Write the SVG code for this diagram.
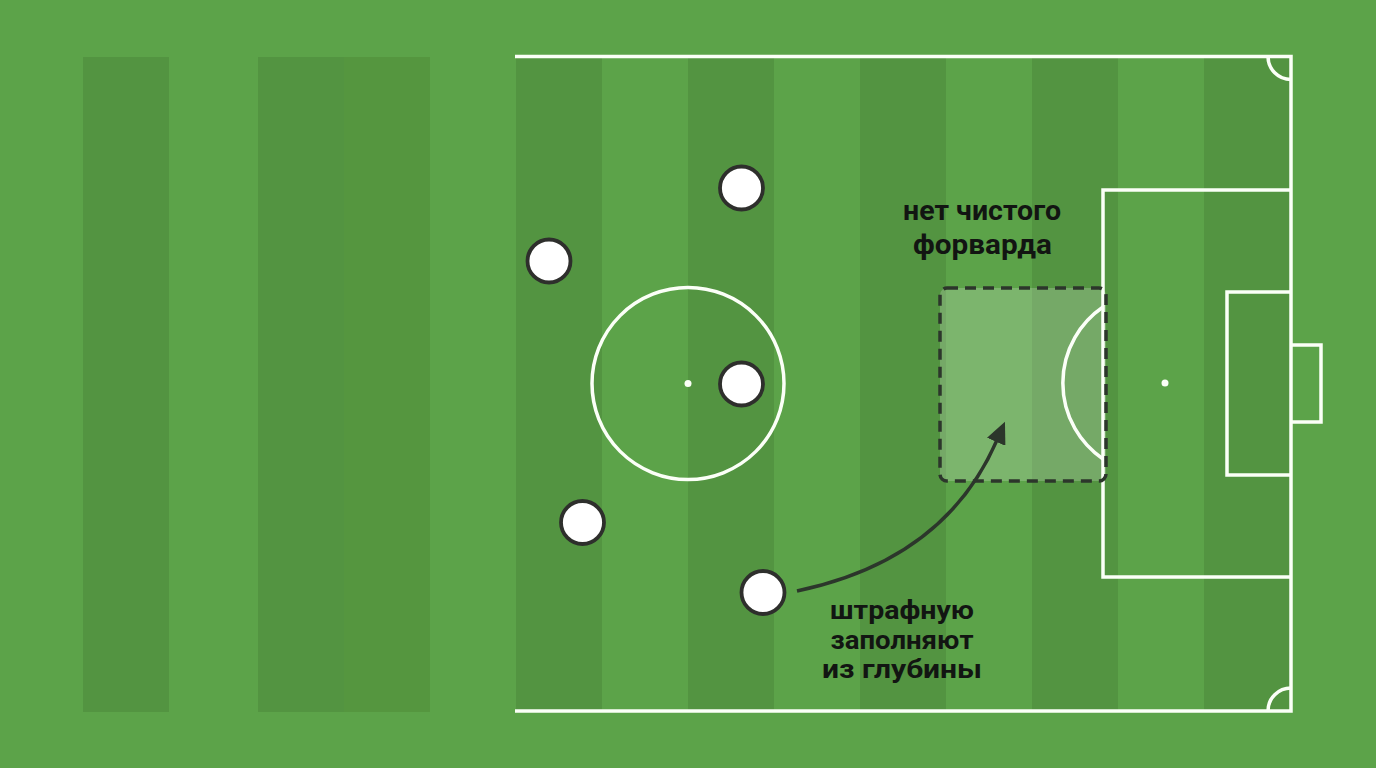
<svg xmlns="http://www.w3.org/2000/svg" width="1376" height="768" viewBox="0 0 1376 768">
<defs>
<style>
.dark{fill:#539441}
.dark2{fill:#55963f}
.line{fill:none;stroke:#fbfff7;stroke-width:3.5}
.player{fill:#ffffff;stroke:#2e2f2c;stroke-width:3.8}
.lbl{font-family:Roboto,"Open Sans","DejaVu Sans",sans-serif;font-weight:700;font-size:27px;fill:#121512;text-anchor:middle}
.lbl2{font-size:25px}
</style>
<marker id="ah" markerUnits="userSpaceOnUse" markerWidth="22" markerHeight="20" viewBox="0 0 22 20" refX="2" refY="10" orient="auto">
<path d="M0,0 L22,10 L0,20 z" fill="#2c362b"/>
</marker>
</defs>
<rect x="0" y="0" width="1376" height="768" fill="#5ca349"/>
<g id="stripes">
<rect class="dark" x="83" y="57" width="86" height="655"/>
<rect class="dark" x="258" y="57" width="86" height="655"/>
<rect class="dark2" x="344" y="57" width="86" height="655"/>
<rect class="dark" x="516" y="57" width="86" height="654"/>
<rect class="dark" x="688" y="57" width="86" height="654"/>
<rect class="dark" x="860" y="57" width="86" height="654"/>
<rect class="dark" x="1032" y="57" width="86" height="654"/>
<rect class="dark" x="1204" y="57" width="87" height="654"/>
</g>
<g id="markings">
<path class="line" d="M515,56.5 H1291 V711 H515"/>
<path class="line" d="M1268,56.5 A23,23 0 0 0 1291,79.5"/>
<path class="line" d="M1291,688 A23,23 0 0 0 1268,711"/>
<circle class="line" cx="688" cy="383.5" r="96"/>
<circle cx="688" cy="383.5" r="3.5" fill="#fbfff7"/>
<path class="line" d="M1291,190 H1103 V577 H1291"/>
<path class="line" d="M1291,292 H1227 V475 H1291"/>
<path class="line" d="M1291,345 H1321 V422 H1291"/>
<circle cx="1165" cy="383" r="3.5" fill="#fbfff7"/>
<path class="line" d="M1103,307 A92,92 0 0 0 1103,459"/>
</g>
<g id="zone">
<rect x="940" y="288" width="166" height="193" rx="7" fill="#ffffff" fill-opacity="0.2" stroke="#2c362b" stroke-width="3.5" stroke-dasharray="11,7"/>
</g>
<g id="connectors">
<path d="M797,591 Q945,560 997,440" fill="none" stroke="#2c362b" stroke-width="3.5" marker-end="url(#ah)"/>
</g>
<g id="players">
<circle id="p1" class="player" cx="741.5" cy="188" r="21.5"/>
<circle id="p2" class="player" cx="549" cy="261" r="21.5"/>
<circle id="p3" class="player" cx="741.5" cy="384" r="21.5"/>
<circle id="p4" class="player" cx="582.5" cy="522.5" r="21.5"/>
<circle id="p5" class="player" cx="763" cy="592.5" r="21.5"/>
</g>
<g id="label-forward">
<text class="lbl"><tspan x="982" y="220" textLength="158" lengthAdjust="spacingAndGlyphs">нет чистого</tspan><tspan x="982.5" y="254" textLength="139" lengthAdjust="spacingAndGlyphs">форварда</tspan></text>
</g>
<g id="label-depth">
<text class="lbl lbl2"><tspan x="902" y="619" textLength="144" lengthAdjust="spacingAndGlyphs">штрафную</tspan><tspan x="902" y="648.5" textLength="143" lengthAdjust="spacingAndGlyphs">заполняют</tspan><tspan x="902" y="678" textLength="160" lengthAdjust="spacingAndGlyphs">из глубины</tspan></text>
</g>
</svg>
